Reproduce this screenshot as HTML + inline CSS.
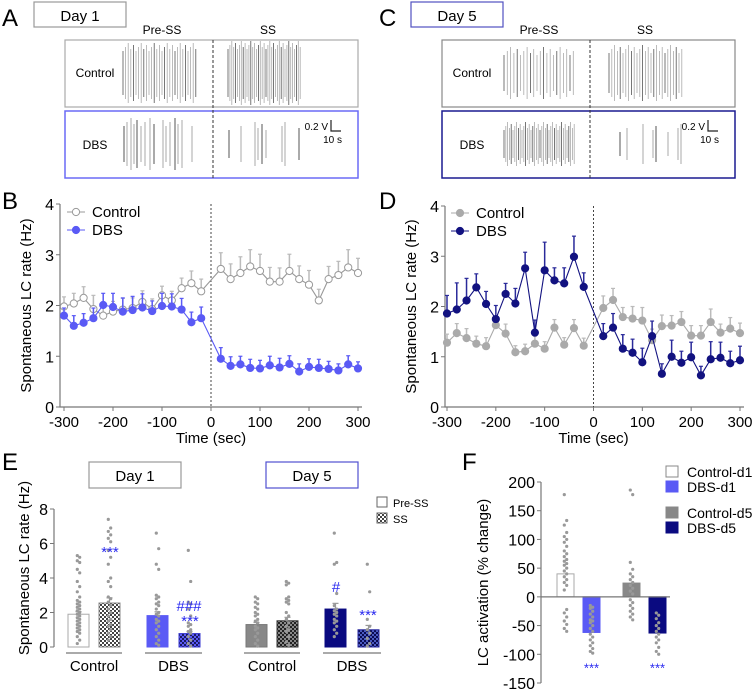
<!DOCTYPE html>
<html><head><meta charset="utf-8"><style>
html,body{margin:0;padding:0;background:#fff;}
svg{display:block;font-family:"Liberation Sans",Arial,sans-serif;}
</style></head><body>
<svg id="fig" width="754" height="690" viewBox="0 0 754 690" xmlns="http://www.w3.org/2000/svg">
<defs>
<pattern id="hatchW" width="4" height="4" patternUnits="userSpaceOnUse"><rect width="4" height="4" fill="#fff"/><rect width="2" height="2" fill="#444"/><rect x="2" y="2" width="2" height="2" fill="#444"/></pattern>
<pattern id="hatchB" width="4" height="4" patternUnits="userSpaceOnUse"><rect width="4" height="4" fill="#5a5af5"/><rect width="2" height="2" fill="#1a1a60"/><rect x="2" y="2" width="2" height="2" fill="#1a1a60"/></pattern>
<pattern id="hatchG" width="4" height="4" patternUnits="userSpaceOnUse"><rect width="4" height="4" fill="#888"/><rect width="2" height="2" fill="#222"/><rect x="2" y="2" width="2" height="2" fill="#222"/></pattern>
<pattern id="hatchN" width="4" height="4" patternUnits="userSpaceOnUse"><rect width="4" height="4" fill="#4a5ac0"/><rect width="2" height="2" fill="#0a0a50"/><rect x="2" y="2" width="2" height="2" fill="#0a0a50"/></pattern>
</defs>
<g id="root"></g>
</svg>
<script>
// ---- Panel B / D data ----
const timePts = [-300,-280,-260,-240,-220,-200,-180,-160,-140,-120,-100,-80,-60,-40,-20,20,40,60,80,100,120,140,160,180,200,220,240,260,280,300];
const bControl = [1.98,2.04,2.15,1.93,1.80,1.88,1.92,1.95,2.07,1.93,2.20,2.10,2.34,2.44,2.28,2.72,2.52,2.64,2.77,2.68,2.47,2.47,2.68,2.52,2.41,2.10,2.52,2.60,2.75,2.64];
const bControlErr = [0.19,0.2,0.22,0.27,0.2,0.2,0.22,0.2,0.22,0.2,0.18,0.18,0.2,0.24,0.24,0.32,0.3,0.32,0.33,0.33,0.28,0.27,0.33,0.26,0.28,0.22,0.25,0.27,0.35,0.29];
const bDBS = [1.80,1.60,1.66,1.75,2.01,1.97,1.88,1.91,1.96,1.89,1.99,1.98,1.92,1.67,1.75,0.95,0.81,0.84,0.77,0.76,0.82,0.78,0.85,0.70,0.79,0.77,0.75,0.72,0.84,0.76];
const bDBSErr = [0.15,0.2,0.18,0.2,0.23,0.27,0.27,0.27,0.27,0.2,0.25,0.25,0.22,0.2,0.22,0.22,0.18,0.16,0.17,0.16,0.18,0.18,0.16,0.15,0.16,0.17,0.15,0.13,0.17,0.13];
const dControl = [1.28,1.47,1.37,1.26,1.21,1.63,1.46,1.09,1.11,1.26,1.16,1.58,1.24,1.57,1.22,1.97,2.13,1.79,1.76,1.72,1.33,1.61,1.62,1.69,1.42,1.42,1.69,1.48,1.56,1.47];
const dControlErr = [0.17,0.19,0.19,0.15,0.17,0.15,0.19,0.13,0.14,0.15,0.14,0.16,0.14,0.17,0.15,0.24,0.23,0.19,0.24,0.26,0.22,0.22,0.2,0.21,0.2,0.2,0.26,0.17,0.22,0.2];
const dDBS = [1.86,1.94,2.12,2.38,2.05,1.75,2.25,2.06,2.76,1.48,2.72,2.52,2.46,2.99,2.39,1.41,1.58,1.16,1.08,0.89,1.41,0.66,1.00,0.88,0.99,0.63,0.95,0.98,0.87,0.93];
const dDBSErr = [0.36,0.53,0.44,0.27,0.25,0.27,0.21,0.3,0.32,0.25,0.56,0.25,0.31,0.41,0.28,0.25,0.28,0.28,0.27,0.28,0.3,0.2,0.33,0.23,0.3,0.18,0.35,0.31,0.24,0.28];
const lineYTicks = [0,1,2,3,4];
const lineXTicks = [-300,-200,-100,0,100,200,300];
// ---- Panel E data ----
const eGroups = ["Control","DBS","Control","DBS"];
const eMeans = [1.90,2.55,1.82,0.78,1.30,1.52,2.20,1.00];
const eErr = [0.15,0.3,0.22,0.12,0.12,0.2,0.33,0.25];
const eDots = [
 [5.3,5.2,5.0,4.9,4.5,4.3,3.8,3.5,3.2,2.9,2.7,2.6,2.5,2.4,2.3,2.2,2.1,2.0,1.9,1.8,1.7,1.6,1.5,1.4,1.3,1.2,1.1,1.0,0.9,0.8,0.6,0.4,0.2],
 [7.4,6.9,6.7,6.5,6.3,6.1,5.6,5.2,4.8,4.0,3.8,3.5,2.9,2.8,2.6,2.4,2.2,2.0,1.8,1.6,1.5,1.3,1.2,1.0,0.8,0.6,0.4],
 [6.6,5.7,4.8,4.5,3.0,2.9,2.8,2.6,2.5,2.4,2.2,2.0,1.9,1.8,1.6,1.5,1.4,1.2,1.0,0.8,0.6,0.4,0.2,0.1],
 [5.6,3.8,2.6,2.5,2.2,1.8,1.4,1.3,1.2,1.0,0.9,0.8,0.6,0.4,0.2,0.05],
 [2.9,2.8,2.6,2.5,2.3,2.2,2.0,1.9,1.8,1.6,1.5,1.4,1.2,1.1,1.0,0.8,0.6,0.4,0.2,0.05],
 [3.8,3.7,3.6,2.9,2.8,2.7,2.6,2.5,2.0,1.8,1.6,1.4,1.2,1.0,0.9,0.6,0.3,0.1],
 [6.6,4.9,4.8,3.1,2.4,2.2,2.1,2.0,1.9,1.8,1.6,1.5,1.4,1.2,1.0,0.8,0.6],
 [4.8,3.2,1.6,1.2,1.0,0.8,0.5,0.2,0.05]
];
const eYTicks = [0,2,4,6,8];
// ---- Panel F data ----
const fLabels = ["Control-d1","DBS-d1","Control-d5","DBS-d5"];
const fMeans = [40,-62,24,-63];
const fDots = [
 [178,133,125,112,105,100,95,88,80,75,70,65,62,58,55,50,45,40,35,30,25,20,12,-22,-28,-35,-42,-48,-55,-60],
 [-15,-18,-20,-25,-30,-35,-40,-42,-45,-50,-55,-60,-65,-70,-75,-80,-85,-90,-95,-98],
 [186,178,60,48,40,35,30,25,20,15,10,5,-5,-10,-15,-20,-25,-30,-35,-40],
 [-28,-32,-38,-45,-50,-55,-60,-65,-70,-75,-80,-88,-95,-100]
];
const fYTicks = [200,150,100,50,0,-50,-100,-150];

const NS="http://www.w3.org/2000/svg";
const root=document.getElementById('root');
function mk(tag,attrs,parent,text){const e=document.createElementNS(NS,tag);for(const k in attrs)e.setAttribute(k,attrs[k]);if(text!==undefined)e.textContent=text;(parent||root).appendChild(e);return e;}
function grp(name){const g=mk('g',{});return g;}

// ---------- Panels A and C (traces) ----------
function tracePanel(ox,letter,dayLabel,dayColor,ctrlColor,dbsColor,spikes){
  const g=grp('trace-panel-'+letter.toLowerCase());
  const t=mk('text',{x:ox,y:26,'font-size':24},g,letter);
  
  const bx=mk('rect',{x:ox+32,y:2,width:92,height:25,fill:'#fff',stroke:dayColor,'stroke-width':1.2},g);
  
  mk('text',{x:ox+78,y:21,'font-size':15,'text-anchor':'middle'},g,dayLabel);
  const L=ox+63,R=ox+356,mid=ox+211;
  mk('text',{x:ox+160,y:34,'font-size':12,'text-anchor':'middle'},g,'Pre-SS');
  mk('text',{x:ox+266,y:34,'font-size':12,'text-anchor':'middle'},g,'SS');
  const cb=mk('rect',{x:L,y:40,width:R-L,height:67,fill:'none',stroke:ctrlColor,'stroke-width':1.2},g);
  
  const db=mk('rect',{x:L,y:111,width:R-L,height:67,fill:'none',stroke:dbsColor,'stroke-width':1.5},g);
  
  mk('text',{x:L+30,y:77,'font-size':12,'text-anchor':'middle'},g,'Control');
  mk('text',{x:L+30,y:149,'font-size':12,'text-anchor':'middle'},g,'DBS');
  mk('line',{x1:mid,y1:40,x2:mid,y2:178,stroke:'#333','stroke-dasharray':'3,2','stroke-width':1},g);
  spikes.forEach(s=>{
    const cy = s[0]==='c'?73:144;
    s[1].forEach((xr,i)=>{
      const x=ox+xr-2;
      const h=s[2]+((i*7)%5)*2;
      mk('line',{x1:x,y1:cy-h,x2:x,y2:cy+h,stroke:i%4===0?'#555':'#aaa','stroke-width':s[3]},g);
    });
  });
  mk('text',{x:R-30,y:130,'font-size':10,'text-anchor':'end'},g,'0.2 V');
  mk('path',{d:`M${R-27},120 V131 H${R-17}`,fill:'none',stroke:'#222','stroke-width':1.2},g);
  mk('text',{x:R-16,y:143,'font-size':10,'text-anchor':'end'},g,'10 s');
}
function range(a,b,step){const r=[];for(let x=a;x<=b;x+=step)r.push(Math.round(x*10)/10);return r;}
tracePanel(2,'A','Day 1','#999','#aaa','#6a6af5',[
 ['c',range(123,197,2.6),22,0.8],['c',range(228,302,1.9),24,0.8],
 ['d',[124,127,131,134,137,141,145,150,154,163,166,170,175,178,182,192],18,1],
 ['d',[229,241,255,258,262,266,282,285,299],14,1]
]);
tracePanel(379,'C','Day 5','#5050c0','#888','#1a1a90',[
 ['c',range(127,198,3.3),18,0.8],['c',range(232,306,2.8),20,0.8],
 ['d',range(127,198,1.8),14,0.8],
 ['d',[243,250,266,276,279,291,301,304],12,1]
]);

// ---------- Panels B and D (line charts) ----------
function linePanel(cfg){
  const g=grp('line-chart-'+cfg.letter.toLowerCase());
  const X=v=>cfg.x0+(v+300)/600*(cfg.x1-cfg.x0);
  const Y=v=>cfg.y0-(v/4)*(cfg.y0-cfg.y4);
  const t=mk('text',{x:cfg.lx,y:209,'font-size':24},g,cfg.letter);
  
  const ax=mk('path',{d:`M${cfg.ax},${cfg.y4} V${cfg.y0} H${cfg.x1+4}`,fill:'none',stroke:'#777','stroke-width':1.2},g);
  
  lineYTicks.forEach(v=>{
    mk('line',{x1:cfg.ax-4,y1:Y(v),x2:cfg.ax,y2:Y(v),stroke:'#777'},g);
    const tl=mk('text',{x:cfg.ax-6,y:Y(v)+6,'font-size':16,'text-anchor':'end'},g,String(v));
    
  });
  lineXTicks.forEach(v=>{
    mk('line',{x1:X(v),y1:cfg.y0,x2:X(v),y2:cfg.y0+4,stroke:'#777'},g);
    const tl=mk('text',{x:X(v),y:cfg.y0+20,'font-size':15,'text-anchor':'middle'},g,String(v));
    
  });
  mk('line',{x1:X(0),y1:cfg.y4,x2:X(0),y2:cfg.y0,stroke:'#444','stroke-dasharray':'2,2','stroke-width':1},g);
  const yt=mk('text',{transform:`translate(${cfg.ax-29},${(cfg.y0+cfg.y4)/2}) rotate(-90)`,'font-size':15,'text-anchor':'middle'},g,'Spontaneous LC rate (Hz)');
  
  const xt=mk('text',{x:X(0),y:cfg.y0+36,'font-size':15,'text-anchor':'middle'},g,'Time (sec)');
  
  cfg.series.forEach(s=>{
    const sg=mk('g',{},g);
    
    timePts.forEach((tp,i)=>{
      mk('line',{x1:X(tp),y1:Y(s.vals[i]),x2:X(tp),y2:Y(s.vals[i]+s.err[i]),stroke:s.errColor,'stroke-width':1.5},sg);
      mk('line',{x1:X(tp)-2,y1:Y(s.vals[i]+s.err[i]),x2:X(tp)+2,y2:Y(s.vals[i]+s.err[i]),stroke:s.errColor,'stroke-width':1.2},sg);
    });
    mk('polyline',{points:timePts.map((tp,i)=>X(tp)+','+Y(s.vals[i])).join(' '),fill:'none',stroke:s.color,'stroke-width':1.1},sg);
    timePts.forEach((tp,i)=>{
      const c=mk('circle',{cx:X(tp),cy:Y(s.vals[i]),r:3.6,fill:s.fill,stroke:s.color,'stroke-width':1},sg);
      
    });
  });
  cfg.series.forEach((s,k)=>{
    const ly=cfg.legY+k*18, lx=cfg.legX;
    const lg=mk('g',{},g);
    mk('line',{x1:lx-9,y1:ly,x2:lx+9,y2:ly,stroke:s.color,'stroke-width':1.1},lg);
    mk('circle',{cx:lx,cy:ly,r:3.6,fill:s.fill,stroke:s.color},lg);
    mk('text',{x:lx+16,y:ly+5,'font-size':15},lg,s.label);
  });
}
linePanel({letter:'B',lx:2,ax:60,x0:64,x1:358,y0:407,y4:204,legX:76,legY:212,series:[
 {name:'control',label:'Control',vals:bControl,err:bControlErr,color:'#999',errColor:'#bbb',fill:'#fff'},
 {name:'dbs',label:'DBS',vals:bDBS,err:bDBSErr,color:'#5a5af5',errColor:'#5a5af5',fill:'#5a5af5'}]});
linePanel({letter:'D',lx:379,ax:445,x0:447,x1:740,y0:407,y4:206,legX:460,legY:213,series:[
 {name:'control',label:'Control',vals:dControl,err:dControlErr,color:'#aaa',errColor:'#bbb',fill:'#aaa'},
 {name:'dbs',label:'DBS',vals:dDBS,err:dDBSErr,color:'#121280',errColor:'#2a2a9a',fill:'#121280'}]});

// ---------- Panel E ----------
(function(){
  const g=grp('bar-chart-e');
  const ax=54,y0=647,y8=509;
  const Y=v=>y0-v/8*(y0-y8);
  const barX=[68,99,147,179,246,277,325,358], bw=21;
  const fills=['#fff','url(#hatchW)','#5a5af5','url(#hatchB)','#888','url(#hatchG)','#0a0a80','url(#hatchN)'];
  const strokes=['#aaa','#888','#5a5af5','#3a3ad0','#777','#333','#0a0a80','#2a2aa0'];
  const t=mk('text',{x:2,y:470,'font-size':24},g,'E');
  [[89,'Day 1','#999'],[266,'Day 5','#5050d0']].forEach(d=>{
    const r=mk('rect',{x:d[0],y:462,width:92,height:26,fill:'#fff',stroke:d[2],'stroke-width':1.2},g);
    
    mk('text',{x:d[0]+46,y:481,'font-size':15,'text-anchor':'middle'},g,d[1]);
  });
  mk('line',{x1:ax,y1:y8,x2:ax,y2:y0,stroke:'#777','stroke-width':1.2},g);
  eYTicks.forEach(v=>{
    mk('line',{x1:ax-4,y1:Y(v),x2:ax,y2:Y(v),stroke:'#777'},g);
    const tl=mk('text',{x:ax-6,y:Y(v)+6,'font-size':16,'text-anchor':'end'},g,String(v));
    
  });
  const yt=mk('text',{transform:`translate(29,${(y0+y8)/2-10}) rotate(-90)`,'font-size':15,'text-anchor':'middle'},g,'Spontaneous LC rate (Hz)');
  
  eMeans.forEach((m,i)=>{
    const b=mk('rect',{x:barX[i],y:Y(m),width:bw,height:y0-Y(m),fill:fills[i],stroke:strokes[i],'stroke-width':1},g);
    
    const cx=barX[i]+bw/2;
    eDots[i].forEach((v,k)=>mk('circle',{cx:cx+(k%2?1.2:-1.2),cy:Y(v),r:1.6,fill:'#999'},g));
    mk('line',{x1:cx,y1:Y(m),x2:cx,y2:Y(m+eErr[i]),stroke:'#999','stroke-width':1.2},g);
    mk('line',{x1:cx-3,y1:Y(m+eErr[i]),x2:cx+3,y2:Y(m+eErr[i]),stroke:'#999','stroke-width':1.2},g);
  });
  eGroups.forEach((lab,j)=>{
    const a=barX[2*j]-2,b=barX[2*j+1]+bw+2;
    mk('line',{x1:a,y1:653,x2:b,y2:653,stroke:'#777','stroke-width':1.2},g);
    const tl=mk('text',{x:(a+b)/2,y:671,'font-size':15,'text-anchor':'middle'},g,lab);
    
  });
  const star=(x,y,s)=>mk('text',{x:x,y:y,'font-size':15,fill:'#2a2af0','text-anchor':'middle'},g,s);
  star(110,557,'***');star(189,611,'###');star(190,626,'***');star(336,592,'#');star(368,620,'***');
  const lg=mk('g',{},g);
  mk('rect',{x:377,y:497,width:10,height:10,fill:'#fff',stroke:'#666'},lg);
  mk('text',{x:393,y:507,'font-size':11},lg,'Pre-SS');
  mk('rect',{x:377,y:513,width:10,height:10,fill:'url(#hatchW)',stroke:'#666'},lg);
  mk('text',{x:393,y:523,'font-size':11},lg,'SS');
})();

// ---------- Panel F ----------
(function(){
  const g=grp('bar-chart-f');
  const ax=541, y200=482, ym150=683;
  const Y=v=>y200+(200-v)/350*(ym150-y200);
  const barX=[557,583,623,649], bw=17;
  const fills=['#fff','#5a5af5','#888','#0a0a80'];
  const strokes=['#aaa','#5a5af5','#888','#0a0a80'];
  const t=mk('text',{x:462,y:470,'font-size':24},g,'F');
  mk('line',{x1:ax,y1:y200,x2:ax,y2:ym150,stroke:'#777','stroke-width':1.2},g);
  fYTicks.forEach(v=>{
    mk('line',{x1:ax-4,y1:Y(v),x2:ax,y2:Y(v),stroke:'#777'},g);
    const tl=mk('text',{x:ax-6,y:Y(v)+6,'font-size':16,'text-anchor':'end'},g,String(v));
    
  });
  const yt=mk('text',{transform:`translate(${ax-53},${(y200+ym150)/2}) rotate(-90)`,'font-size':15,'text-anchor':'middle'},g,'LC activation (% change)');
  
  fMeans.forEach((m,i)=>{
    const top=Math.min(Y(m),Y(0)),h=Math.abs(Y(m)-Y(0));
    const b=mk('rect',{x:barX[i],y:top,width:bw,height:h,fill:fills[i],stroke:strokes[i]},g);
    
    const cx=barX[i]+bw/2;
    fDots[i].forEach((v,k)=>mk('circle',{cx:cx+(k%2?1.2:-1.2),cy:Y(v),r:1.6,fill:'#999'},g));
  });
  mk('line',{x1:ax,y1:Y(0),x2:670,y2:Y(0),stroke:'#777','stroke-width':1.2},g);
  [1,3].forEach(i=>mk('text',{x:barX[i]+bw/2,y:Y(-100)+18,'font-size':13,fill:'#2a2af0','text-anchor':'middle'},g,'***'));
  const ly=[472,487,513,528];
  fLabels.forEach((lab,i)=>{
    const lg=mk('g',{},g);
    mk('rect',{x:666,y:ly[i]-6,width:12,height:11,fill:fills[i],stroke:i===0?'#888':fills[i]},lg);
    mk('text',{x:687,y:ly[i]+5,'font-size':14},lg,lab);
  });
})();
</script>
</body></html>
